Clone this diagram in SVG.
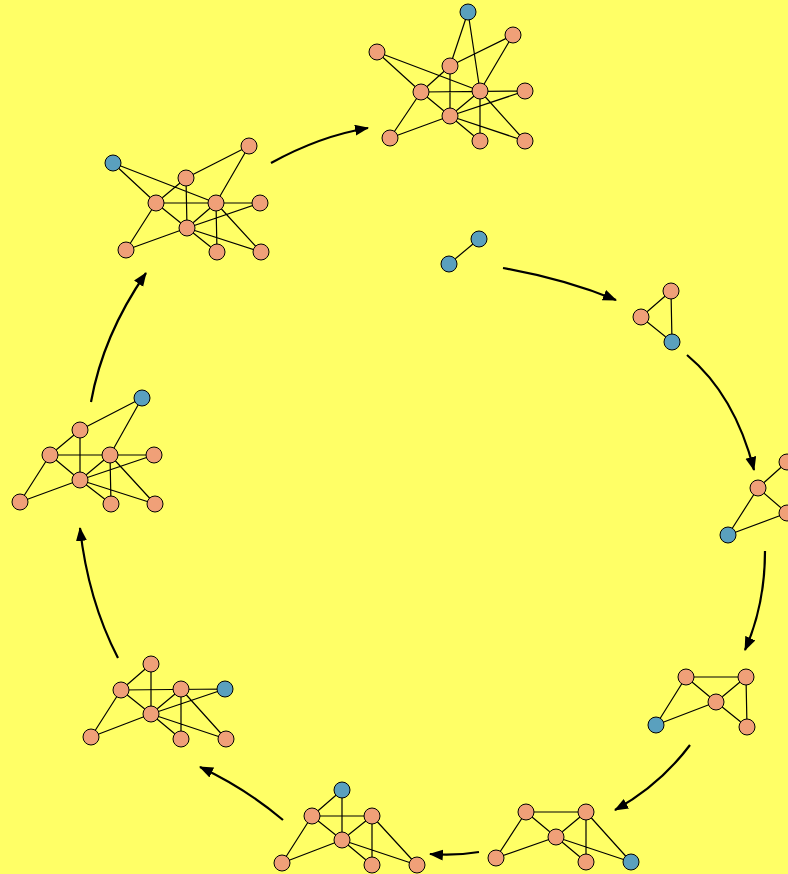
<svg xmlns="http://www.w3.org/2000/svg" width="788" height="874" viewBox="0 0 788 874">
<defs>
<style>
.e{stroke:#000;stroke-width:1.2;fill:none}
.o{fill:#F0A078;stroke:#000;stroke-width:1}
.b{fill:#5AA0BE;stroke:#000;stroke-width:1}
.a{stroke:#000;stroke-width:2.2;fill:none;marker-end:url(#ah)}
</style>
<marker id="ah" markerUnits="userSpaceOnUse" markerWidth="16" markerHeight="12" refX="13" refY="5.5" orient="auto">
<path d="M0,0 L14,5.5 L0,11 Z" fill="#000"/>
</marker>
</defs>
<rect width="788" height="874" fill="#FFFF66"/>

<g id="connectors">
<path class="a" d="M271,163 Q320,136 368,128"/>
<path class="a" d="M503,268 Q565,279 616,300"/>
<path class="a" d="M687,355 Q735,395 754,470"/>
<path class="a" d="M765,551 Q765,605 745,650"/>
<path class="a" d="M690,745 Q660,785 615,810"/>
<path class="a" d="M479,852 Q455,856 430,854"/>
<path class="a" d="M283,820 Q245,788 200,767"/>
<path class="a" d="M118,658 Q88,600 80,528"/>
<path class="a" d="M91,402 Q103,335 146,273"/>
</g>

<g id="graph1">
<path class="e" d="M468,12L450,66M468,12L480,91M377,52L421,92M377,52L480,91M513,35L450,66M513,35L480,91M450,66L421,92M450,66L450,116M421,92L525,91M421,92L450,116M421,92L390,138M480,91L450,116M480,91L480,141M480,91L525,141M450,116L525,91M450,116L390,138M450,116L480,141M450,116L525,141"/>
<circle class="b" cx="468" cy="12" r="8"/>
<circle class="o" cx="377" cy="52" r="8"/>
<circle class="o" cx="513" cy="35" r="8"/>
<circle class="o" cx="450" cy="66" r="8"/>
<circle class="o" cx="421" cy="92" r="8"/>
<circle class="o" cx="480" cy="91" r="8"/>
<circle class="o" cx="525" cy="91" r="8"/>
<circle class="o" cx="450" cy="116" r="8"/>
<circle class="o" cx="390" cy="138" r="8"/>
<circle class="o" cx="480" cy="141" r="8"/>
<circle class="o" cx="525" cy="141" r="8"/>
</g>

<g id="graph2">
<path class="e" d="M113,163L156,203M113,163L216,203M249,146L186,178M249,146L216,203M186,178L156,203M186,178L187,228M156,203L260,203M156,203L187,228M156,203L126,250M216,203L187,228M216,203L217,252M216,203L261,252M187,228L260,203M187,228L126,250M187,228L217,252M187,228L261,252"/>
<circle class="b" cx="113" cy="163" r="8"/>
<circle class="o" cx="249" cy="146" r="8"/>
<circle class="o" cx="186" cy="178" r="8"/>
<circle class="o" cx="156" cy="203" r="8"/>
<circle class="o" cx="216" cy="203" r="8"/>
<circle class="o" cx="260" cy="203" r="8"/>
<circle class="o" cx="187" cy="228" r="8"/>
<circle class="o" cx="126" cy="250" r="8"/>
<circle class="o" cx="217" cy="252" r="8"/>
<circle class="o" cx="261" cy="252" r="8"/>
</g>

<g id="graph3">
<path class="e" d="M479,239L449,264"/>
<circle class="b" cx="479" cy="239" r="8"/>
<circle class="b" cx="449" cy="264" r="8"/>
</g>

<g id="graph4">
<path class="e" d="M671,291L641,317L672,342Z"/>
<circle class="o" cx="671" cy="291" r="8"/>
<circle class="o" cx="641" cy="317" r="8"/>
<circle class="b" cx="672" cy="342" r="8"/>
</g>

<g id="graph5">
<path class="e" d="M787,462L758,488L787,513M728,535L758,488M728,535L787,513"/>
<circle class="o" cx="787" cy="462" r="8"/>
<circle class="o" cx="758" cy="488" r="8"/>
<circle class="o" cx="787" cy="513" r="8"/>
<circle class="b" cx="728" cy="535" r="8"/>
</g>

<g id="graph6">
<path class="e" d="M686,677L746,677M686,677L716,702M686,677L656,725M746,677L716,702M746,677L747,727M716,702L656,725M716,702L747,727"/>
<circle class="o" cx="686" cy="677" r="8"/>
<circle class="o" cx="746" cy="677" r="8"/>
<circle class="o" cx="716" cy="702" r="8"/>
<circle class="o" cx="747" cy="727" r="8"/>
<circle class="b" cx="656" cy="725" r="8"/>
</g>

<g id="graph7">
<path class="e" d="M526,812L586,812M526,812L556,837M526,812L496,858M586,812L556,837M586,812L586,862M586,812L631,862M556,837L496,858M556,837L586,862M556,837L631,862"/>
<circle class="o" cx="526" cy="812" r="8"/>
<circle class="o" cx="586" cy="812" r="8"/>
<circle class="o" cx="556" cy="837" r="8"/>
<circle class="o" cx="496" cy="858" r="8"/>
<circle class="o" cx="586" cy="862" r="8"/>
<circle class="b" cx="631" cy="862" r="8"/>
</g>

<g id="graph8">
<path class="e" d="M342,790L312,816M342,790L342,840M312,816L372,816M312,816L342,840M312,816L282,863M372,816L342,840M372,816L372,865M372,816L417,865M342,840L282,863M342,840L372,865M342,840L417,865"/>
<circle class="b" cx="342" cy="790" r="8"/>
<circle class="o" cx="312" cy="816" r="8"/>
<circle class="o" cx="372" cy="816" r="8"/>
<circle class="o" cx="342" cy="840" r="8"/>
<circle class="o" cx="282" cy="863" r="8"/>
<circle class="o" cx="372" cy="865" r="8"/>
<circle class="o" cx="417" cy="865" r="8"/>
</g>

<g id="graph9">
<path class="e" d="M151,664L121,690M151,664L151,714M121,690L225,689M121,690L151,714M121,690L91,737M181,689L151,714M181,689L181,739M181,689L226,739M151,714L225,689M151,714L91,737M151,714L181,739M151,714L226,739"/>
<circle class="o" cx="151" cy="664" r="8"/>
<circle class="o" cx="121" cy="690" r="8"/>
<circle class="o" cx="181" cy="689" r="8"/>
<circle class="b" cx="225" cy="689" r="8"/>
<circle class="o" cx="151" cy="714" r="8"/>
<circle class="o" cx="91" cy="737" r="8"/>
<circle class="o" cx="181" cy="739" r="8"/>
<circle class="o" cx="226" cy="739" r="8"/>
</g>

<g id="graph10">
<path class="e" d="M142,398L80,430M142,398L110,455M80,430L50,455M80,430L80,480M50,455L154,455M50,455L80,480M50,455L20,502M110,455L80,480M110,455L111,504M110,455L155,504M80,480L154,455M80,480L20,502M80,480L111,504M80,480L155,504"/>
<circle class="b" cx="142" cy="398" r="8"/>
<circle class="o" cx="80" cy="430" r="8"/>
<circle class="o" cx="50" cy="455" r="8"/>
<circle class="o" cx="110" cy="455" r="8"/>
<circle class="o" cx="154" cy="455" r="8"/>
<circle class="o" cx="80" cy="480" r="8"/>
<circle class="o" cx="20" cy="502" r="8"/>
<circle class="o" cx="111" cy="504" r="8"/>
<circle class="o" cx="155" cy="504" r="8"/>
</g>
</svg>
